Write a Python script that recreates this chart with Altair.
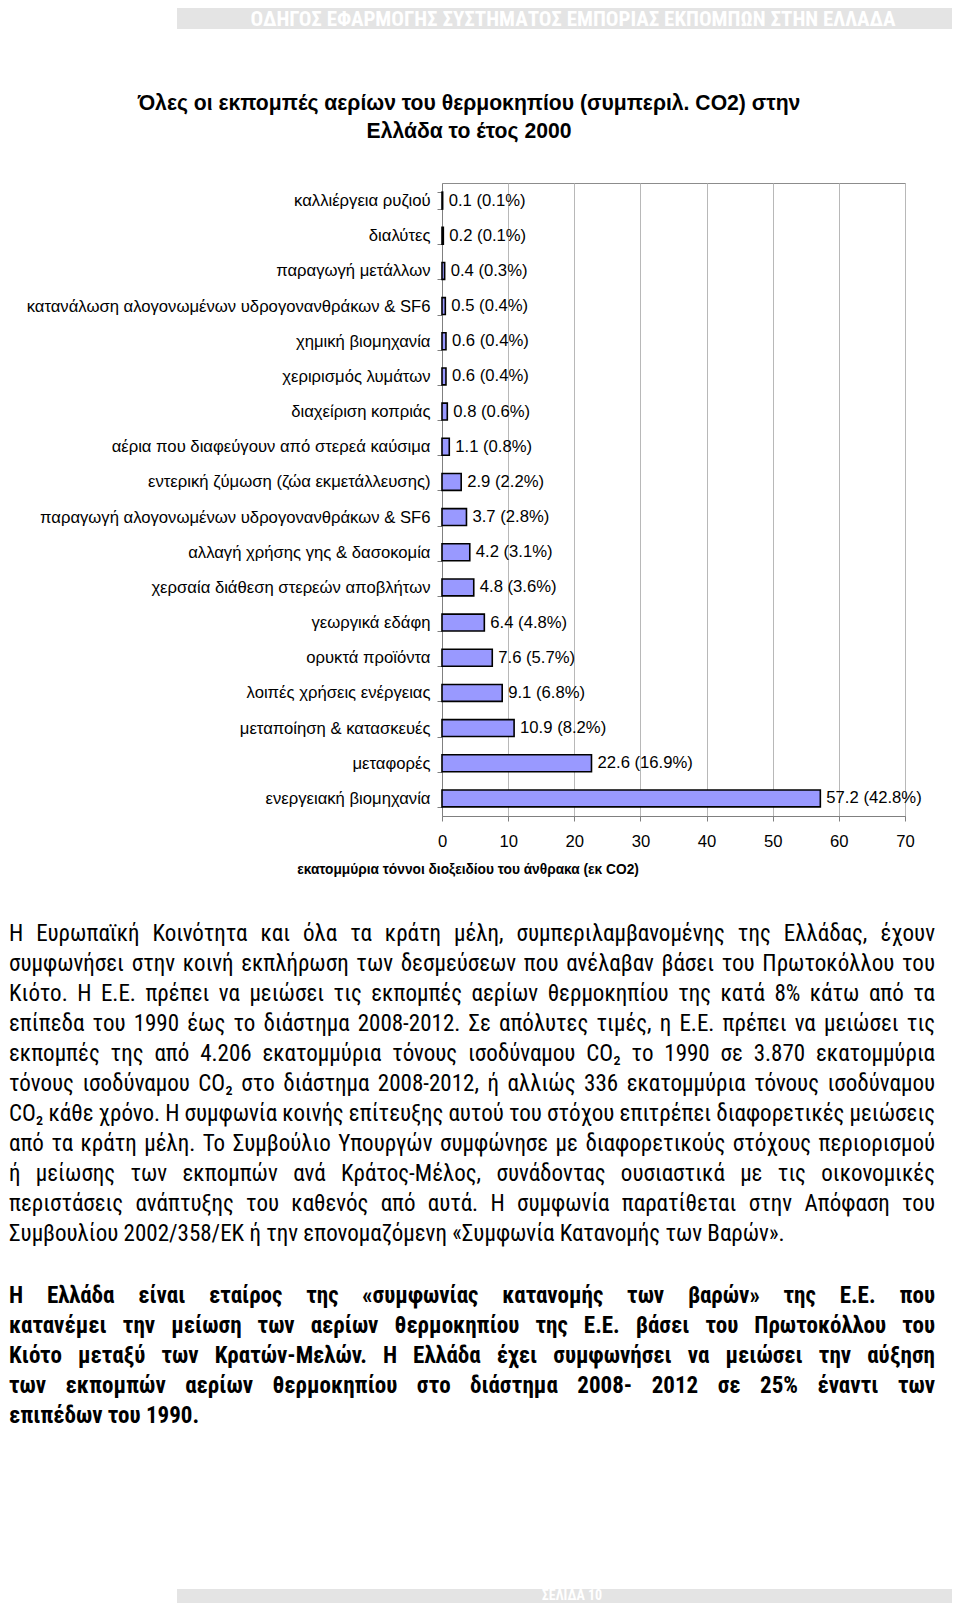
import glob
import unicodedata
import altair as alt
import pandas as pd

# ---------------- data ----------------
categories = [
    "καλλιέργεια ρυζιού",
    "διαλύτες",
    "παραγωγή μετάλλων",
    "κατανάλωση αλογονωμένων υδρογονανθράκων & SF6",
    "χημική βιομηχανία",
    "χεριρισμός λυμάτων",
    "διαχείριση κοπριάς",
    "αέρια που διαφεύγουν από στερεά καύσιμα",
    "εντερική ζύμωση (ζώα εκμετάλλευσης)",
    "παραγωγή αλογονωμένων υδρογονανθράκων & SF6",
    "αλλαγή χρήσης γης & δασοκομία",
    "χερσαία διάθεση στερεών αποβλήτων",
    "γεωργικά εδάφη",
    "ορυκτά προϊόντα",
    "λοιπές χρήσεις ενέργειας",
    "μεταποίηση & κατασκευές",
    "μεταφορές",
    "ενεργειακή βιομηχανία",
]
values = [0.1, 0.2, 0.4, 0.5, 0.6, 0.6, 0.8, 1.1, 2.9, 3.7, 4.2, 4.8, 6.4, 7.6, 9.1, 10.9, 22.6, 57.2]
shares = [0.1, 0.1, 0.3, 0.4, 0.4, 0.4, 0.6, 0.8, 2.2, 2.8, 3.1, 3.6, 4.8, 5.7, 6.8, 8.2, 16.9, 42.8]
x_ticks = [0, 10, 20, 30, 40, 50, 60, 70]

header_text = "ΟΔΗΓΟΣ ΕΦΑΡΜΟΓΗΣ ΣΥΣΤΗΜΑΤΟΣ ΕΜΠΟΡΙΑΣ ΕΚΠΟΜΠΩΝ ΣΤΗΝ ΕΛΛΑΔΑ"
footer_text = "ΣΕΛΙΔΑ 10"
title_lines = [
    "Όλες οι εκπομπές αερίων του θερμοκηπίου (συμπεριλ. CO2) στην",
    "Ελλάδα το έτος 2000",
]
x_title = "εκατομμύρια τόννοι διοξειδίου του άνθρακα (εκ CO2)"

para1 = [
    "Η Ευρωπαϊκή Κοινότητα και όλα τα κράτη μέλη, συμπεριλαμβανομένης της Ελλάδας, έχουν",
    "συμφωνήσει στην κοινή εκπλήρωση των δεσμεύσεων που ανέλαβαν βάσει του Πρωτοκόλλου του",
    "Κιότο. Η Ε.Ε. πρέπει να μειώσει τις εκπομπές αερίων θερμοκηπίου της κατά 8% κάτω από τα",
    "επίπεδα του 1990 έως το διάστημα 2008-2012. Σε απόλυτες τιμές, η Ε.Ε. πρέπει να μειώσει τις",
    "εκπομπές της από 4.206 εκατομμύρια τόνους ισοδύναμου CO₂ το 1990 σε 3.870 εκατομμύρια",
    "τόνους ισοδύναμου CO₂ στο διάστημα 2008-2012, ή αλλιώς 336 εκατομμύρια τόνους ισοδύναμου",
    "CO₂ κάθε χρόνο. Η συμφωνία κοινής επίτευξης αυτού του στόχου επιτρέπει διαφορετικές μειώσεις",
    "από τα κράτη μέλη. Το Συμβούλιο Υπουργών συμφώνησε με διαφορετικούς στόχους περιορισμού",
    "ή μείωσης των εκπομπών ανά Κράτος-Μέλος, συνάδοντας ουσιαστικά με τις οικονομικές",
    "περιστάσεις ανάπτυξης του καθενός από αυτά. Η συμφωνία παρατίθεται στην Απόφαση του",
    "Συμβουλίου 2002/358/ΕΚ ή την επονομαζόμενη «Συμφωνία Κατανομής των Βαρών».",
]
para2 = [
    "Η Ελλάδα είναι εταίρος της «συμφωνίας κατανομής των βαρών» της Ε.Ε. που",
    "κατανέμει την μείωση των αερίων θερμοκηπίου της Ε.Ε. βάσει του Πρωτοκόλλου του",
    "Κιότο μεταξύ των Κρατών-Μελών. Η Ελλάδα έχει συμφωνήσει να μειώσει την αύξηση",
    "των εκπομπών αερίων θερμοκηπίου στο διάστημα 2008- 2012 σε 25% έναντι των",
    "επιπέδων του 1990.",
]

# ---------------- layout helpers ----------------
FONT = "Liberation Sans, Arial, Helvetica, sans-serif"
PX0, PY0 = 442, 183          # page position of the plot origin
PLOT_W, PLOT_H = 463, 633
TOTAL_W, TOTAL_H = 944, 1595


def rx(px):
    return px - PX0


def ry(py):
    return py - PY0


# approximate Arial widths (1/1000 em), fallback text measurement
W_AR = {}


def _setw(chars, w):
    for c in chars:
        W_AR[c] = w


_setw(" .,:;/!", 278)
_setw("-()", 333)
_setw("%", 889)
_setw("&", 667)
_setw("«»", 556)
_setw("0123456789", 556)
_setw("abdeghnopqu", 556)
_setw("ckvxyzs", 500)
_setw("fjt", 278)
_setw("il", 222)
_setw("r", 333)
_setw("m", 833)
_setw("w", 722)
_setw("ABEKPSVXYΑΒΕΚΡΥΧ", 667)
_setw("CDHNRUΗΝΠ", 722)
_setw("GOQΟΘ", 778)
_setw("FTZΤΖ", 611)
_setw("IΙ", 278)
_setw("L", 556)
_setw("MΜ", 833)
_setw("ΓΣ", 600)
_setw("ΔΛ", 669)
_setw("Ξ", 646)
_setw("Φ", 797)
_setw("Ψ", 835)
_setw("Ω", 748)
for c, w in {"α": 578, "β": 575, "γ": 500, "δ": 556, "ε": 450, "ζ": 442, "η": 556, "θ": 556,
             "ι": 222, "κ": 500, "λ": 500, "μ": 576, "ν": 500, "ξ": 448, "ο": 556, "π": 688,
             "ρ": 572, "σ": 619, "ς": 487, "τ": 419, "υ": 548, "φ": 648, "χ": 500, "ψ": 712,
             "ω": 781}.items():
    W_AR[c] = w
W_AR["₂"] = 380


def _table_width(s):
    tot = 0
    for ch in s:
        base = unicodedata.normalize("NFD", ch)[0]
        tot += W_AR.get(ch, W_AR.get(base, 556))
    return tot / 1000.0


def _find(name):
    r = glob.glob("/usr/share/fonts/**/" + name, recursive=True)
    r += glob.glob("/usr/local/share/fonts/**/" + name, recursive=True)
    return r[0] if r else None


try:
    from PIL import ImageFont
    HAVE_PIL = True
except Exception:
    HAVE_PIL = False


def make_measurer(reg_file, bold_file, factor):
    """Return measure(s, size, bold) for a font family (PIL if possible)."""
    if HAVE_PIL and reg_file and bold_file:
        try:
            fonts = {False: ImageFont.truetype(reg_file, 100),
                     True: ImageFont.truetype(bold_file, 100)}

            def m(s, size, bold):
                return fonts[bold].getlength(s) * size / 100.0
            return m
        except Exception:
            pass

    def m(s, size, bold):
        return _table_width(s) * size * factor * (1.07 if bold else 1.0)
    return m


measure_std = make_measurer(_find("LiberationSans-Regular.ttf"),
                            _find("LiberationSans-Bold.ttf"), 1.0)

# condensed family for the body text (the source uses a narrow face)
COND_FONT, measure_cond = FONT, measure_std
for fam, rf, bf, fac in [
    ("Roboto Condensed", "RobotoCondensed-Regular.ttf", "RobotoCondensed-Bold.ttf", 0.86),
    ("Liberation Sans Narrow", "LiberationSansNarrow-Regular.ttf", "LiberationSansNarrow-Bold.ttf", 0.82),
    ("DejaVu Sans Condensed", "DejaVuSansCondensed.ttf", "DejaVuSansCondensed-Bold.ttf", 0.97),
]:
    r, b = _find(rf), _find(bf)
    if r and b:
        COND_FONT = fam + ", " + FONT
        measure_cond = make_measurer(r, b, fac)
        break

LEFT, RIGHT = 9, 935


def fit_size(lines, bold, cap):
    size = cap
    for line in lines[:-1]:
        words = line.split(" ")
        natural = sum(measure_cond(w, 1.0, bold) for w in words)
        need = natural + (len(words) - 1) * 0.15
        size = min(size, (RIGHT - LEFT) / need)
    return size


P1_SIZE = fit_size(para1, False, 23.0)
P2_SIZE = fit_size(para2, True, 23.0)

rows = []


def justify(lines, top, step, bold, size):
    wt = "bold" if bold else "normal"
    for i, line in enumerate(lines):
        y = ry(top + i * step)
        if i == len(lines) - 1:
            rows.append(dict(t=line, x=rx(LEFT), y=y, a="left", w=wt))
            continue
        words = line.split(" ")
        ws = [measure_cond(w, size, bold) for w in words]
        gap = (RIGHT - LEFT - sum(ws)) / (len(words) - 1)
        cur = LEFT
        for j, (w, wd) in enumerate(zip(words, ws)):
            if j == 0:
                rows.append(dict(t=w, x=rx(LEFT), y=y, a="left", w=wt))
            elif j == len(words) - 1:
                rows.append(dict(t=w, x=rx(RIGHT), y=y, a="right", w=wt))
            else:
                rows.append(dict(t=w, x=rx(cur + wd / 2), y=y, a="center", w=wt))
            cur += wd + gap


justify(para1, 934, 29.95, False, P1_SIZE)
justify(para2, 1296, 29.95, True, P2_SIZE)
words_df = pd.DataFrame(rows)

# text sizes chosen so that widths match the source page
LBL_SIZE = min(17.5, 404 / measure_std(categories[3], 1.0, False))
TITLE_SIZE = min(22.0, 663 / measure_std(title_lines[0], 1.0, True))
XT_SIZE = min(14.5, 342 / measure_std(x_title, 1.0, True))
HDR_SIZE = min(21.0, 732 / measure_cond(header_text, 1.0, True))
FTR_SIZE = min(14.0, 105 / measure_cond(footer_text, 1.0, True))

# ---------------- chart ----------------
df = pd.DataFrame({"cat": categories, "val": values, "share": shares})
df["label"] = [f"{v} ({s}%)" for v, s in zip(values, shares)]

y_enc = alt.Y(
    "cat:N", sort=categories,
    scale=alt.Scale(paddingInner=0.52, paddingOuter=0.26),
    axis=alt.Axis(title=None, labelFont=FONT, labelFontSize=LBL_SIZE, labelColor="black",
                  labelLimit=600, labelPadding=7, tickBand="extent", tickSize=5,
                  tickColor="#808080", domainColor="#808080", grid=False),
)
x_enc = alt.X(
    "val:Q", scale=alt.Scale(domain=[0, 70], nice=False, zero=True),
    axis=alt.Axis(title=None, values=x_ticks, format="d", grid=True, gridColor="#b8b8b8",
                  tickSize=5, tickColor="#808080", domainColor="#808080", labelFont=FONT,
                  labelFontSize=LBL_SIZE, labelColor="black", labelPadding=12,
                  labelFlush=False),
)

bars = alt.Chart(df).mark_bar(fill="#9999ff", stroke="black", strokeWidth=1.6).encode(
    x=x_enc, y=y_enc)
labels = alt.Chart(df).mark_text(align="left", baseline="middle", dx=6, font=FONT,
                                 fontSize=LBL_SIZE, color="black").encode(
    x=alt.X("val:Q"), y=alt.Y("cat:N", sort=categories), text="label:N")

one = pd.DataFrame({"k": [0]})


def box(x1, x2, y1, y2, color):
    return alt.Chart(one).mark_rect(color=color).encode(
        x=alt.value(rx(x1)), x2=alt.value(rx(x2)), y=alt.value(ry(y1)), y2=alt.value(ry(y2)))


def label(txt, px, py, size, weight="normal", color="black", align="center", font=FONT):
    return alt.Chart(one).mark_text(align=align, baseline="middle", font=font, fontSize=size,
                                    fontWeight=weight, color=color).encode(
        x=alt.value(rx(px)), y=alt.value(ry(py)), text=alt.value(txt))


decor = [
    box(177, 960, 8, 29, "#e4e4e4"),
    label(header_text, 573, 19.5, HDR_SIZE, "bold", "white", font=COND_FONT),
    box(177, 960, 1589, 1603, "#e4e4e4"),
    label(footer_text, 572, 1595.5, FTR_SIZE, "bold", "white", font=COND_FONT),
    label(title_lines[0], 469, 104, TITLE_SIZE, "bold"),
    label(title_lines[1], 469, 132, TITLE_SIZE, "bold"),
    label(x_title, 468, 870, XT_SIZE, "bold"),
]

text_layers = []
for a in ["left", "center", "right"]:
    for wt, size in [("normal", P1_SIZE), ("bold", P2_SIZE)]:
        text_layers.append(
            alt.Chart(words_df).transform_filter(
                f"datum.a == '{a}' && datum.w == '{wt}'"
            ).mark_text(align=a, baseline="middle", font=COND_FONT, fontSize=size,
                        fontWeight=wt, color="black").encode(
                x=alt.X("x:Q", scale=None, axis=None),
                y=alt.Y("y:Q", scale=None, axis=None),
                text="t:N",
            )
        )

chart = alt.layer(bars, labels, *decor, *text_layers).properties(
    width=PLOT_W, height=PLOT_H,
    autosize=alt.AutoSizeParams(type="none"),
    padding={"left": PX0 - 8, "top": PY0 - 8,
             "right": TOTAL_W - (PX0 - 8) - PLOT_W,
             "bottom": TOTAL_H - (PY0 - 8) - PLOT_H},
    background="white",
).configure_view(stroke="#8c8c8c", strokeWidth=1)

chart.save("out.html", embed_options={"renderer": "svg", "actions": False})
